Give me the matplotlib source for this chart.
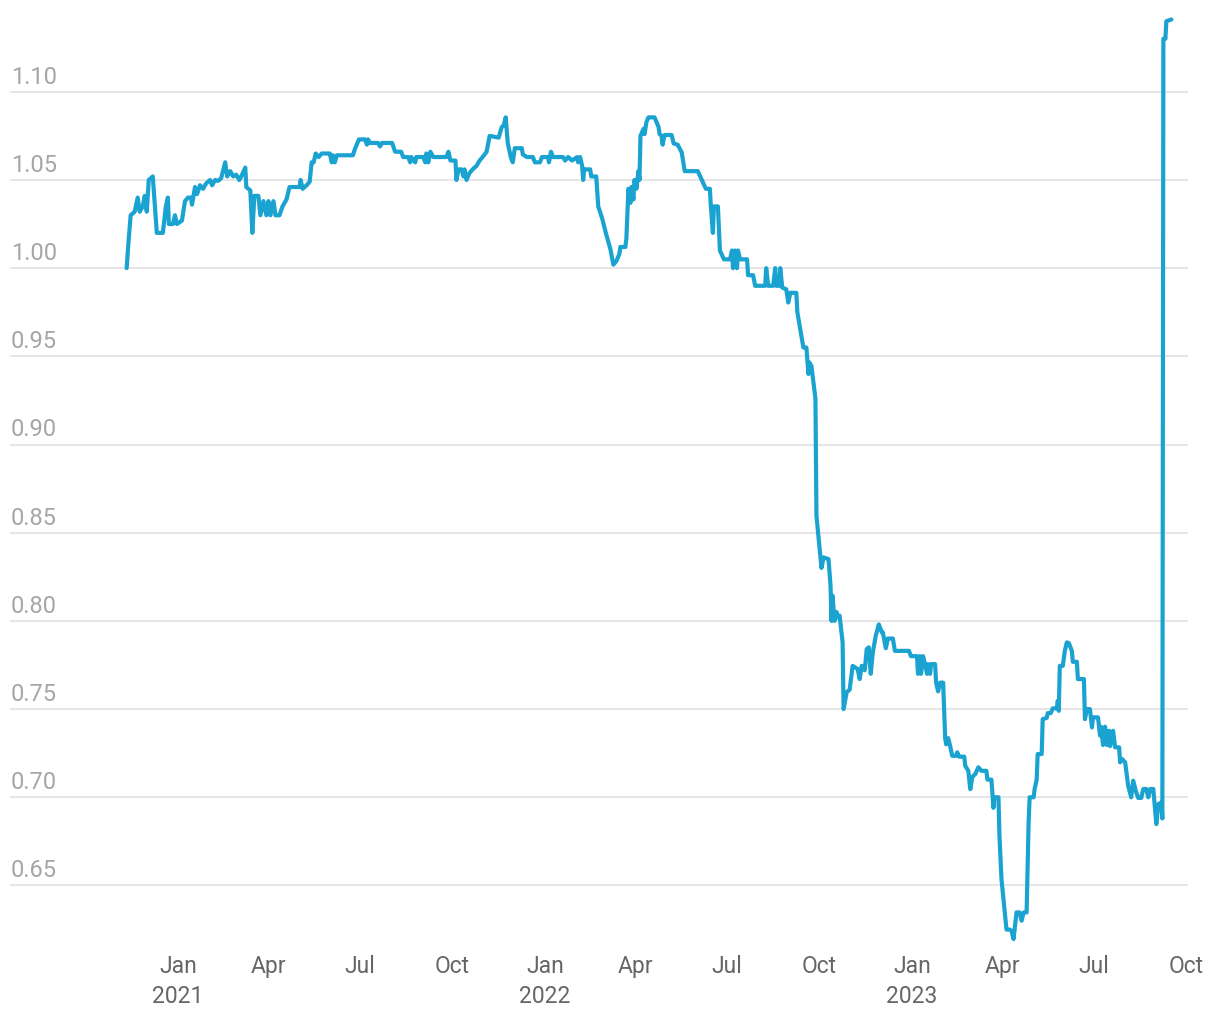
import matplotlib
matplotlib.use("Agg")
import matplotlib.pyplot as plt
import pandas as pd

plt.rcParams['font.family'] = ['Roboto', 'DejaVu Sans']

# Days since 2021-01-01 and index values
days = [-51, -49, -47, -43, -40, -38, -35, -33, -31, -29, -25, -21, -15, -12, -10, -9, -5, -3, -1,
        4, 7, 10, 13, 14, 17, 19, 22, 25, 28, 32, 34, 37, 40, 43, 47, 49, 52, 55, 58, 61, 63, 67, 68,
        72, 74, 76, 80, 82, 85, 88, 90, 92, 95, 97, 101, 104, 108, 111, 121, 122, 124, 128, 131, 133,
        135, 137, 140, 143, 151, 153, 154, 156, 158, 174, 176, 180, 186, 188, 189, 191, 199, 201, 203,
        213, 216, 222, 224, 229, 231, 232, 236, 237, 244, 246, 247, 249, 251, 254, 267, 269, 271, 276,
        277, 279, 282, 284, 285, 287, 290, 294, 297, 300, 303, 307, 310, 319, 322, 324, 326, 328, 331,
        333, 335, 342, 343, 347, 353, 355, 360, 362, 368, 369, 371, 373, 383, 385, 388, 392, 397, 398,
        400, 402, 403, 404, 410, 411, 416, 418, 422, 426, 430, 433, 436, 439, 440, 445, 446, 448, 450,
        451, 453, 454, 456, 458, 459, 460, 463, 464, 466, 468, 474, 478, 479, 481, 482, 484, 491, 493,
        497, 501, 504, 517, 521, 525, 529, 530, 532, 533, 537, 539, 543, 549, 551, 552, 554, 556, 557,
        559, 566, 567, 572, 574, 584, 585, 587, 592, 594, 595, 598, 599, 601, 605, 607, 609, 615, 616,
        620, 622, 625, 627, 628, 630, 632, 634, 635, 637, 638, 640, 642, 647, 649, 650, 651, 653, 655,
        656, 658, 661, 662, 665, 668, 671, 676, 678, 680, 683, 685, 687, 689, 691, 694, 697, 700, 701,
        704, 706, 711, 713, 727, 729, 735, 736, 738, 739, 741, 743, 745, 746, 748, 749, 753, 754, 756,
        758, 761, 763, 764, 766, 768, 770, 774, 775, 777, 782, 783, 786, 788, 790, 793, 796, 799, 804,
        805, 809, 811, 812, 816, 817, 819, 821, 824, 827, 829, 831, 834, 837, 839, 841, 844, 846, 847,
        851, 852, 854, 855, 859, 860, 864, 865, 868, 870, 874, 875, 876, 877, 880, 882, 884, 886, 889,
        890, 894, 895, 901, 902, 904, 907, 909, 910, 915, 917, 918, 920, 922, 924, 926, 927, 930, 932,
        936, 937, 939, 942, 945, 948, 950, 953, 955, 958, 960, 963, 965, 967, 970, 973, 975, 978, 979,
        980, 982, 983, 988]

values = [1.000, 1.016, 1.030, 1.032, 1.040, 1.032, 1.035, 1.041, 1.032, 1.050, 1.052, 1.020, 1.020,
          1.035, 1.040, 1.025, 1.025, 1.030, 1.025,
          1.027, 1.038, 1.040, 1.040, 1.036, 1.046, 1.042, 1.047, 1.045, 1.048, 1.050, 1.047, 1.050,
          1.0495, 1.051, 1.060, 1.052, 1.055, 1.052, 1.053, 1.050, 1.052, 1.057, 1.046,
          1.044, 1.020, 1.041, 1.041, 1.030, 1.038, 1.030, 1.038, 1.030, 1.038, 1.030, 1.030, 1.035,
          1.039, 1.046, 1.046, 1.050, 1.045, 1.047, 1.049, 1.060,
          1.060, 1.065, 1.063, 1.065, 1.065, 1.060, 1.064, 1.060, 1.064, 1.064, 1.0675, 1.073, 1.073,
          1.070, 1.073, 1.071, 1.071, 1.069, 1.071,
          1.071, 1.066, 1.066, 1.063, 1.063, 1.060, 1.063, 1.060, 1.063, 1.063, 1.060, 1.065, 1.060,
          1.066, 1.063, 1.063, 1.066, 1.061, 1.061,
          1.050, 1.056, 1.056, 1.052, 1.056, 1.050, 1.054, 1.0565, 1.058, 1.061, 1.063, 1.066, 1.075,
          1.074, 1.080, 1.081, 1.0855, 1.071, 1.063,
          1.060, 1.068, 1.068, 1.0645, 1.063, 1.063, 1.060, 1.060, 1.063, 1.063, 1.060, 1.066, 1.063,
          1.063, 1.061, 1.063, 1.061, 1.063, 1.060,
          1.063, 1.058, 1.050, 1.056, 1.056, 1.052, 1.052, 1.035, 1.028, 1.019, 1.011, 1.002, 1.004,
          1.008, 1.012, 1.012, 1.017, 1.045, 1.037,
          1.046, 1.039, 1.050, 1.045, 1.055, 1.050, 1.075, 1.079, 1.076, 1.083, 1.0855, 1.0855, 1.080,
          1.076, 1.075, 1.070, 1.0755, 1.0755, 1.0707,
          1.070, 1.0656, 1.055, 1.055, 1.050, 1.045, 1.045, 1.035, 1.020, 1.035, 1.035, 1.010, 1.005,
          1.005, 1.010, 1.000, 1.010, 1.000, 1.010,
          1.005, 1.005, 0.996, 0.996, 0.990, 0.990, 1.000, 0.990, 0.990, 1.000, 0.990, 0.990, 1.000,
          0.989, 0.988, 0.9805, 0.986, 0.986, 0.975,
          0.9616, 0.955, 0.955, 0.940, 0.9465, 0.9445, 0.935, 0.926, 0.8596, 0.848, 0.8426, 0.830,
          0.836, 0.835, 0.820, 0.800, 0.8143, 0.800, 0.805,
          0.802, 0.803, 0.788, 0.750, 0.7595, 0.761, 0.7745, 0.7727, 0.767, 0.7745, 0.772, 0.784,
          0.785, 0.770, 0.782, 0.7916, 0.798, 0.7935, 0.7935,
          0.7845, 0.790, 0.790, 0.783, 0.783, 0.780, 0.780, 0.770, 0.780, 0.770, 0.780, 0.7755, 0.770,
          0.7755, 0.770, 0.7755, 0.7755, 0.765, 0.760,
          0.765, 0.765, 0.7335, 0.730, 0.7335, 0.729, 0.7235, 0.7235, 0.7255, 0.723, 0.723, 0.7178,
          0.715, 0.7046, 0.7115, 0.7132, 0.717, 0.715, 0.715,
          0.710, 0.710, 0.694, 0.700, 0.700, 0.678, 0.6536, 0.6423, 0.625, 0.625, 0.6243, 0.6196,
          0.6347, 0.6347, 0.630, 0.6347, 0.6347, 0.6858, 0.700,
          0.700, 0.7047, 0.710, 0.7245, 0.7245, 0.7443, 0.745, 0.7477, 0.7477, 0.7504, 0.7504, 0.7547,
          0.749, 0.7745, 0.7745, 0.783, 0.7878, 0.7874, 0.783,
          0.7768, 0.7768, 0.767, 0.767, 0.7443, 0.750, 0.750, 0.7396, 0.7453, 0.7453, 0.735, 0.740,
          0.7296, 0.740, 0.7296, 0.7377, 0.729, 0.7377, 0.7283,
          0.7283, 0.7198, 0.7217, 0.7198, 0.7065, 0.700, 0.7094, 0.7028, 0.6996, 0.6996, 0.7047,
          0.7047, 0.700, 0.7047, 0.7047, 0.6848, 0.6961, 0.697, 0.688,
          1.130, 1.130, 1.140, 1.141]

y_ticks = [0.65, 0.70, 0.75, 0.80, 0.85, 0.90, 0.95, 1.00, 1.05, 1.10]
x_tick_dates = ['2021-01-01', '2021-04-01', '2021-07-01', '2021-10-01',
                '2022-01-01', '2022-04-01', '2022-07-01', '2022-10-01',
                '2023-01-01', '2023-04-01', '2023-07-01', '2023-10-01']
x_tick_labels = ['Jan\n2021', 'Apr', 'Jul', 'Oct', 'Jan\n2022', 'Apr', 'Jul', 'Oct',
                 'Jan\n2023', 'Apr', 'Jul', 'Oct']

base = pd.Timestamp('2021-01-01')
dates = base + pd.to_timedelta(days, unit='D')

W, H = 1220, 1020
fig = plt.figure(figsize=(W / 100, H / 100), dpi=100)
ax = fig.add_axes([10 / W, 1 - 945 / H, 1178 / W, 930 / H])

ax.plot(dates, values, color='#1aa3d0', lw=3.0, solid_joinstyle='round',
        solid_capstyle='round', clip_on=False, zorder=3)

ax.set_ylim(0.6168, 1.1441)
ax.set_xlim(base - pd.Timedelta(days=167), base + pd.Timedelta(days=1004.5))

for s in ax.spines.values():
    s.set_visible(False)

ax.set_yticks(y_ticks)
ax.yaxis.grid(True, color='#e2e2e2', lw=1.2, zorder=0)
ax.tick_params(axis='y', length=0, labelleft=False)
for v in y_ticks:
    ax.annotate(f'{v:.2f}', xy=(0, v), xycoords=('axes fraction', 'data'),
                xytext=(0.5, 6.5), textcoords='offset points', ha='left', va='baseline',
                color='#a6a6a6', fontsize=17)

ax.set_xticks(pd.to_datetime(x_tick_dates))
ax.set_xticklabels(x_tick_labels, color='#666666', fontsize=16.5, linespacing=1.4)
ax.tick_params(axis='x', length=0, pad=7)
ax.set_axisbelow(True)

fig.savefig('out.png', dpi=100, facecolor='white')
